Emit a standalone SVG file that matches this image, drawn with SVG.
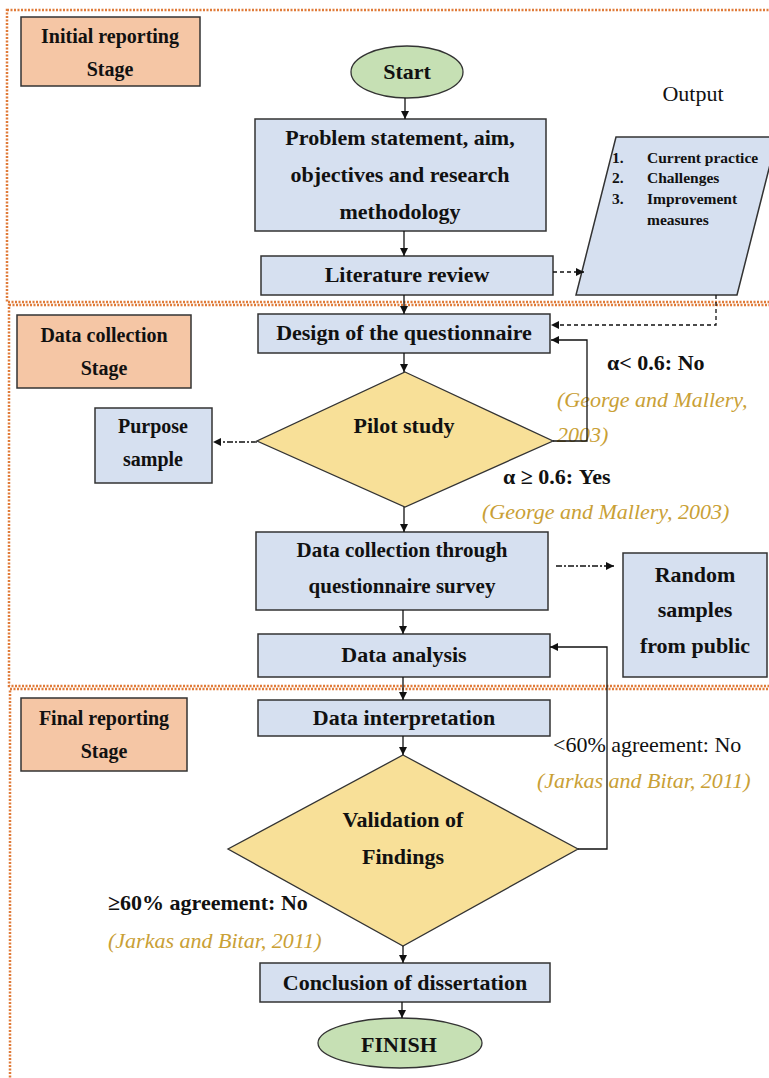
<svg xmlns="http://www.w3.org/2000/svg" width="769" height="1078" viewBox="0 0 769 1078">
<defs>
<style>
.sec{fill:none;stroke:#E07B39;stroke-width:2.5;stroke-dasharray:2 1.5}
.box{fill:#D6E0F0;stroke:#333;stroke-width:1.5}
.stage{fill:#F5C6A5;stroke:#333;stroke-width:1.5}
.term{fill:#C6E0B4;stroke:#333;stroke-width:1.3}
.dia{fill:#F8E098;stroke:#333;stroke-width:1.3}
text{font-family:"Liberation Serif","Times New Roman",serif;fill:#111}
.b{font-weight:bold;font-size:22px;text-anchor:middle}
.s{font-weight:bold;font-size:20px;text-anchor:middle}
.lb{font-weight:bold;font-size:22px}
.lr{font-size:22px}
.cit{font-style:italic;font-size:22px;fill:#C9A035}
.li{font-weight:bold;font-size:15.5px}
.c{fill:none;stroke:#111;stroke-width:1.3}
.dash{stroke-dasharray:4 3}
.dd{stroke-dasharray:6 2 2 2}
</style>
<marker id="ah" viewBox="0 0 10 10" refX="10" refY="5" markerWidth="8" markerHeight="8" markerUnits="userSpaceOnUse" orient="auto">
<path d="M0,0 L10,5 L0,10 z" fill="#111"/>
</marker>
</defs>
<rect width="769" height="1078" fill="#fff"/>
<g id="sections">
<rect class="sec" x="7" y="10" width="790" height="292"/>
<rect class="sec" x="9" y="305" width="790" height="381"/>
<rect class="sec" x="10" y="689" width="790" height="400"/>
</g>
<g id="stage1"><rect class="stage" x="21" y="17" width="179" height="69"/><text class="s" x="110" y="43">Initial reporting</text><text class="s" x="110" y="76">Stage</text></g>
<g id="stage2"><rect class="stage" x="17" y="315" width="174" height="73"/><text class="s" x="104" y="342">Data collection</text><text class="s" x="104" y="375">Stage</text></g>
<g id="stage3"><rect class="stage" x="21" y="698" width="166" height="73"/><text class="s" x="104" y="725">Final reporting</text><text class="s" x="104" y="758">Stage</text></g>
<g id="start"><ellipse class="term" cx="407" cy="72" rx="56" ry="26"/><text class="b" x="407" y="79">Start</text></g>
<g id="problem"><rect class="box" x="255" y="119" width="291" height="112"/><text class="b" x="400" y="145">Problem statement, aim,</text><text class="b" x="400" y="182">objectives and research</text><text class="b" x="400" y="219">methodology</text></g>
<g id="literature"><rect class="box" x="261" y="256" width="292" height="39"/><text class="b" x="407" y="282">Literature review</text></g>
<g id="output">
<text class="lr" x="693" y="101" text-anchor="middle">Output</text>
<polygon class="box" points="616,137 777,137 737,295 576,295"/>
<text class="li" x="612" y="163">1.</text><text class="li" x="647" y="163">Current practice</text>
<text class="li" x="612" y="183">2.</text><text class="li" x="647" y="183">Challenges</text>
<text class="li" x="612" y="204">3.</text><text class="li" x="647" y="204">Improvement</text>
<text class="li" x="647" y="225">measures</text>
</g>
<g id="design"><rect class="box" x="258" y="314" width="292" height="39"/><text class="b" x="404" y="340">Design of the questionnaire</text></g>
<g id="pilot"><polygon class="dia" points="405,372 553,441 405,507 257,441"/><text class="b" x="404" y="433">Pilot study</text></g>
<g id="purpose"><rect class="box" x="95" y="408" width="117" height="75"/><text class="b" x="153" y="433" style="font-size:20px">Purpose</text><text class="b" x="153" y="466" style="font-size:20px">sample</text></g>
<g id="collection"><rect class="box" x="256" y="532" width="292" height="78"/><text class="b" x="402" y="557" style="font-size:21px">Data collection through</text><text class="b" x="402" y="593" style="font-size:21px">questionnaire survey</text></g>
<g id="random"><rect class="box" x="623" y="553" width="144" height="124"/><text class="b" x="695" y="582">Random</text><text class="b" x="695" y="617">samples</text><text class="b" x="695" y="653">from public</text></g>
<g id="analysis"><rect class="box" x="258" y="634" width="292" height="43"/><text class="b" x="404" y="662">Data analysis</text></g>
<g id="interpretation"><rect class="box" x="258" y="700" width="292" height="36"/><text class="b" x="404" y="725">Data interpretation</text></g>
<g id="validation"><polygon class="dia" points="403,755 578,849 403,946 228,849"/><text class="b" x="403" y="827">Validation of</text><text class="b" x="403" y="864">Findings</text></g>
<g id="conclusion"><rect class="box" x="260" y="963" width="290" height="39"/><text class="b" x="405" y="990">Conclusion of dissertation</text></g>
<g id="finish"><ellipse class="term" cx="400" cy="1043" rx="82" ry="25"/><text class="b" x="399" y="1052">FINISH</text></g>
<g id="labels">
<text class="lb" x="607" y="370">α&lt; 0.6: No</text>
<text class="cit" x="557" y="407">(George and Mallery,</text>
<text class="cit" x="557" y="442">2003)</text>
<text class="lb" x="503" y="484">α ≥ 0.6: Yes</text>
<text class="cit" x="482" y="519">(George and Mallery, 2003)</text>
<text class="lr" x="553" y="752">&lt;60% agreement: No</text>
<text class="cit" x="537" y="788">(Jarkas and Bitar, 2011)</text>
<text class="lb" x="108" y="910">≥60% agreement: No</text>
<text class="cit" x="108" y="948">(Jarkas and Bitar, 2011)</text>
</g>
<g id="connectors">
<path class="c" d="M405,98 V119" marker-end="url(#ah)"/>
<path class="c" d="M404,231 V256" marker-end="url(#ah)"/>
<path class="c" d="M404,295 V314" marker-end="url(#ah)"/>
<path class="c" d="M404,353 V372" marker-end="url(#ah)"/>
<path class="c" d="M404,507 V532" marker-end="url(#ah)"/>
<path class="c" d="M403,610 V634" marker-end="url(#ah)"/>
<path class="c" d="M403,677 V700" marker-end="url(#ah)"/>
<path class="c" d="M403,736 V755" marker-end="url(#ah)"/>
<path class="c" d="M403,946 V963" marker-end="url(#ah)"/>
<path class="c" d="M402,1002 V1018" marker-end="url(#ah)"/>
<path class="c dash" d="M553,272 H584" marker-end="url(#ah)"/>
<path class="c dash" d="M716,295 V325 H551" marker-end="url(#ah)"/>
<path class="c" d="M553,441 H587 V340 H551" marker-end="url(#ah)"/>
<path class="c dd" d="M257,442 H213" marker-end="url(#ah)"/>
<path class="c dd" d="M556,566 H614" marker-end="url(#ah)"/>
<path class="c" d="M578,849 H607 V647 H550" marker-end="url(#ah)"/>
</g>
</svg>
